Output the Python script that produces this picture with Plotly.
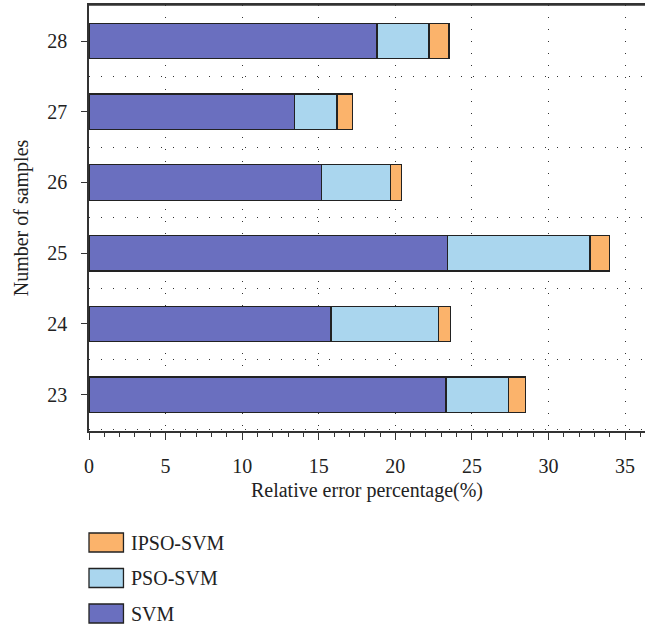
import plotly.graph_objects as go

# ---- data ----
samples = [23, 24, 25, 26, 27, 28]
svm = [23.3, 15.8, 23.4, 15.2, 13.4, 18.8]
pso_svm = [4.1, 7.0, 9.3, 4.5, 2.8, 3.4]
ipso_svm = [1.1, 0.8, 1.3, 0.7, 1.0, 1.3]
series_names = ["SVM", "PSO-SVM", "IPSO-SVM"]
x_ticks = [0, 5, 10, 15, 20, 25, 30, 35]

colors = {"SVM": "#6A6FBF", "PSO-SVM": "#AAD6EE", "IPSO-SVM": "#FBB36B"}
edge = "#222222"
FONT = "Liberation Serif"
FS = 20

W, H = 645, 629
L, R, T, B = 88.5, 0, 5, 198

fig = go.Figure()
for name, vals in zip(series_names, [svm, pso_svm, ipso_svm]):
    fig.add_trace(go.Bar(
        y=samples, x=vals, name=name, orientation="h", width=0.5,
        marker=dict(color=colors[name], line=dict(color=edge, width=1.3)),
        showlegend=False,
    ))

plot_h = H - T - B
plot_w = W - L - R


def py(ypix):
    return (H - B - ypix) / plot_h


def px(xpix):
    return (xpix - L) / plot_w


# manual legend (swatches + labels), top to bottom
legend_order = ["IPSO-SVM", "PSO-SVM", "SVM"]
shapes = [dict(type="line", xref="paper", yref="paper", x0=0, x1=1, y0=1, y1=1,
               line=dict(color="#333", width=1.5))]
annotations = []
for i, name in enumerate(legend_order):
    top = 533 + i * 35.5
    bot = top + 19
    shapes.append(dict(type="rect", xref="paper", yref="paper",
                       x0=px(88.5), x1=px(123), y0=py(bot), y1=py(top),
                       fillcolor=colors[name], line=dict(color=edge, width=1.3)))
    annotations.append(dict(xref="paper", yref="paper", x=px(129), y=py((top + bot) / 2),
                            text=name, showarrow=False, xanchor="left", yanchor="middle",
                            font=dict(family=FONT, size=FS, color="#222")))

fig.update_layout(
    width=W, height=H,
    margin=dict(l=L, r=R, t=T, b=B, pad=0),
    barmode="stack",
    paper_bgcolor="white", plot_bgcolor="white",
    font=dict(family=FONT, size=FS, color="#222"),
    shapes=shapes, annotations=annotations,
)

fig.update_xaxes(
    range=[0, 36.3], tickvals=x_ticks, ticktext=[str(v) for v in x_ticks],
    showline=True, linecolor="#333", linewidth=1.5, mirror=True,
    ticks="outside", ticklen=7, tickwidth=1.3, tickcolor="#333",
    ticklabelstandoff=9,
    showgrid=True, gridcolor="#333", gridwidth=1, griddash="1px,11px",
    minor=dict(dtick=1, ticks="outside", ticklen=4, tickwidth=1, tickcolor="#333", showgrid=False),
    zeroline=False,
    title=dict(text="Relative error percentage(%)", standoff=7, font=dict(size=FS)),
    tickfont=dict(size=FS),
)

fig.update_yaxes(
    range=[22.485, 28.51], tickvals=samples, ticktext=[str(s) for s in samples],
    showline=True, linecolor="#333", linewidth=1.5, mirror=False,
    ticks="outside", ticklen=6, tickwidth=1.3, tickcolor="#333",
    ticklabelstandoff=10,
    showgrid=False, zeroline=False,
    minor=dict(tickvals=[22.5 + k for k in range(7)], showgrid=True, gridcolor="#333",
               gridwidth=1, griddash="1px,11px", ticks=""),
    title=dict(text="Number of samples", standoff=13, font=dict(size=FS)),
    tickfont=dict(size=FS),
)

fig.write_html("out.html", config={"displayModeBar": False},
               post_script="document.body.style.margin='0';")
